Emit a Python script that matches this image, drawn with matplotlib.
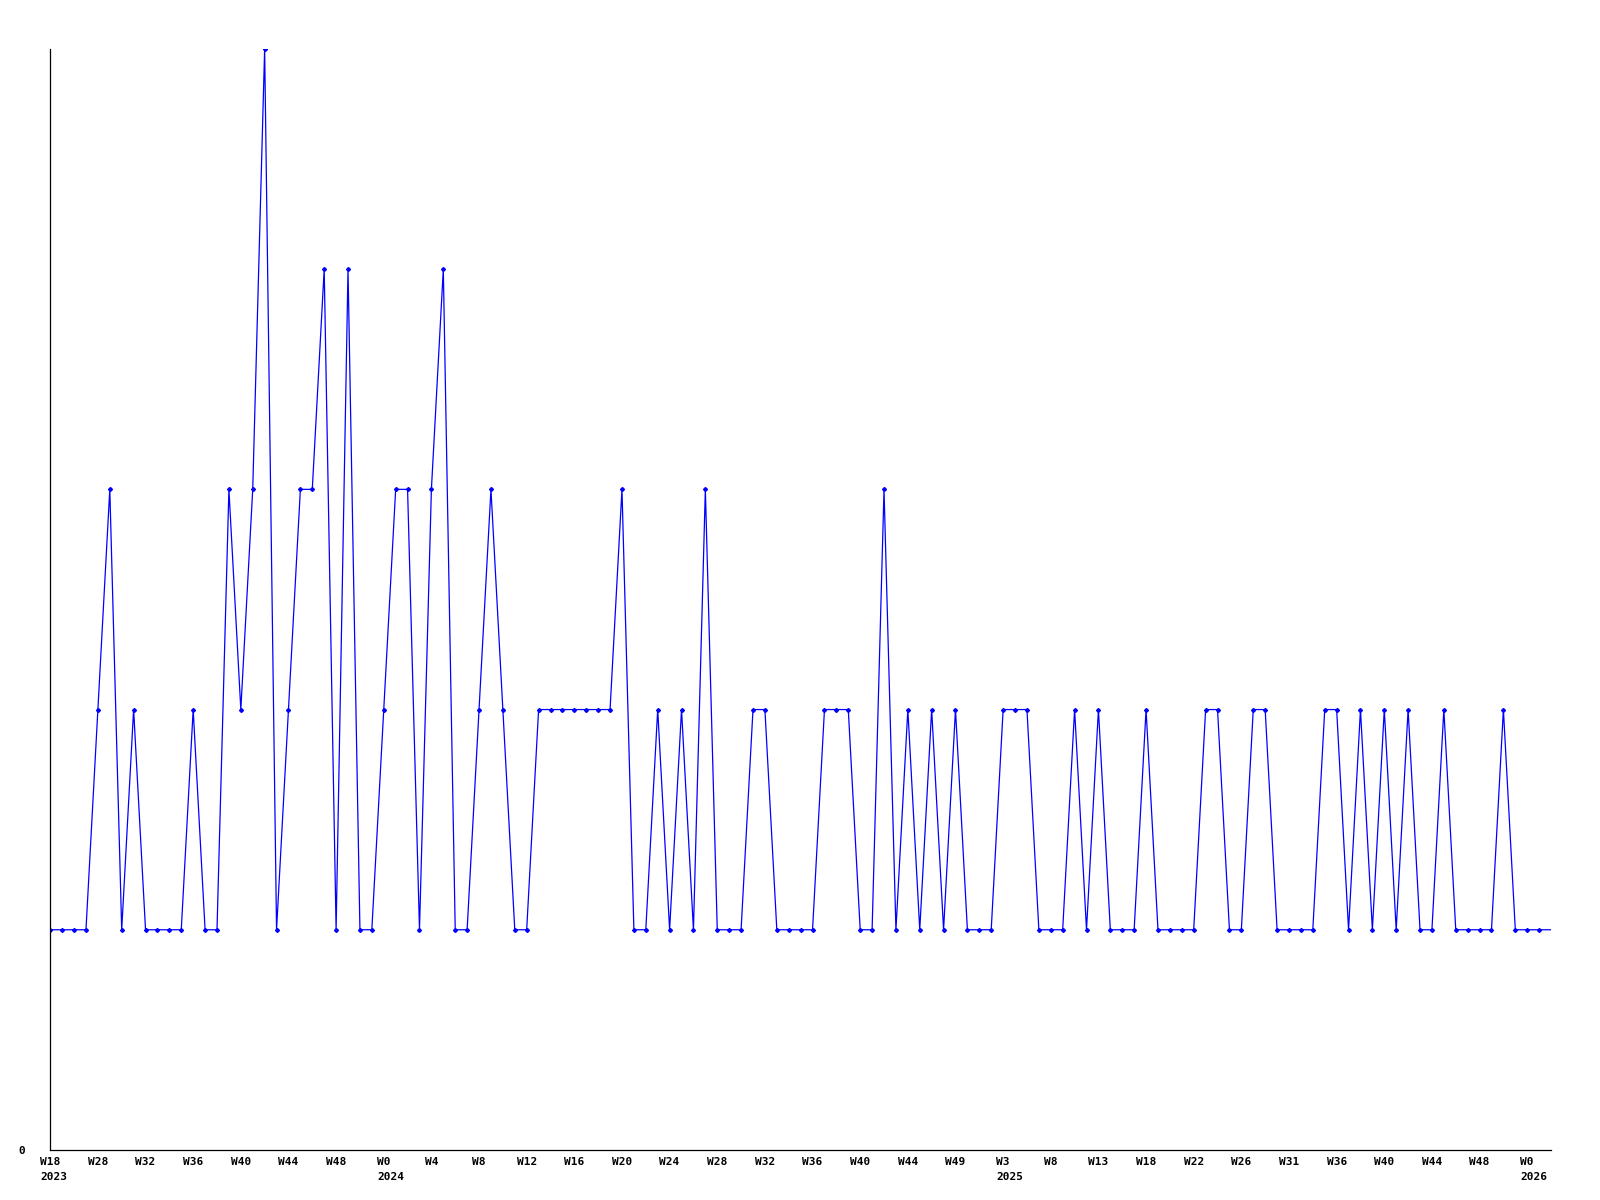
import matplotlib.pyplot as plt

# weekly counts, one value per week (last point has no marker)
values = [1, 1, 1, 1, 2, 3, 1, 2, 1, 1,
          1, 1, 2, 1, 1, 3, 2, 3, 5, 1,
          2, 3, 3, 4, 1, 4, 1, 1, 2, 3,
          3, 1, 3, 4, 1, 1, 2, 3, 2, 1,
          1, 2, 2, 2, 2, 2, 2, 2, 3, 1,
          1, 2, 1, 2, 1, 3, 1, 1, 1, 2,
          2, 1, 1, 1, 1, 2, 2, 2, 1, 1,
          3, 1, 2, 1, 2, 1, 2, 1, 1, 1,
          2, 2, 2, 1, 1, 1, 2, 1, 2, 1,
          1, 1, 2, 1, 1, 1, 1, 2, 2, 1,
          1, 2, 2, 1, 1, 1, 1, 2, 2, 1,
          2, 1, 2, 1, 2, 1, 1, 2, 1, 1,
          1, 1, 2, 1, 1, 1, 1]

week_labels = ['W18', 'W28', 'W32', 'W36', 'W40', 'W44', 'W48', 'W0',
               'W4', 'W8', 'W12', 'W16', 'W20', 'W24', 'W28', 'W32',
               'W36', 'W40', 'W44', 'W49', 'W3', 'W8', 'W13', 'W18',
               'W22', 'W26', 'W31', 'W36', 'W40', 'W44', 'W48', 'W0']
label_step = 4
year_labels = {0: '2023', 7: '2024', 20: '2025', 31: '2026'}

font = {'family': 'DejaVu Sans Mono', 'weight': 'bold', 'size': 8}

fig = plt.figure(figsize=(16, 12), dpi=100)
ax = fig.add_axes([0.0314, 0.0417, 0.938, 0.9175])

x = list(range(len(values)))
ax.plot(x, values, color='#0000ff', lw=0.9, marker='D', ms=2.0,
        markevery=list(range(len(values) - 1)))

ax.set_xlim(0, len(values) - 1)
ax.set_ylim(0, 5)

ticks = [i * label_step for i in range(len(week_labels))]
ax.set_xticks(ticks)
ax.set_xticklabels(week_labels, fontdict=font)
ax.set_yticks([0])
ax.set_yticklabels(['0'], fontdict=font)
ax.tick_params(axis='x', length=0, pad=5)
ax.tick_params(axis='y', length=0, pad=18)

# year labels, left-aligned with the week label above them
cw = 0.602 * font['size']
for k, yr in year_labels.items():
    w = week_labels[k]
    ax.annotate(yr, xy=(ticks[k], 0), xycoords=('data', 'axes fraction'),
                xytext=(-len(w) * cw / 2, -16), textcoords='offset points',
                ha='left', va='top', **font)

for s in ['top', 'right']:
    ax.spines[s].set_visible(False)
for s in ['left', 'bottom']:
    ax.spines[s].set_linewidth(0.9)
    ax.spines[s].set_color('black')

fig.savefig('out.png', dpi=100)
